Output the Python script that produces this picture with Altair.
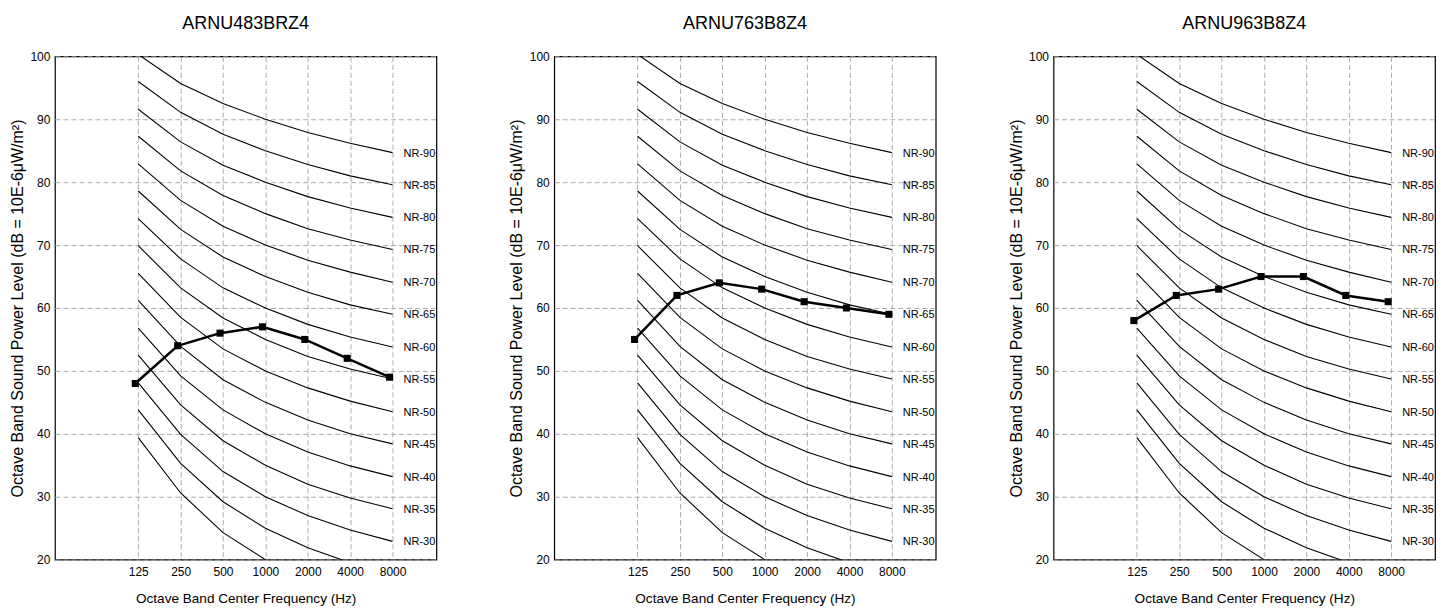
import altair as alt
import pandas as pd

FONT = "Liberation Sans"

# Octave band centre frequencies (Hz)
FREQS = [125, 250, 500, 1000, 2000, 4000, 8000]

# NR reference curves (dB) at the octave bands above
NR_LEVELS = [90, 85, 80, 75, 70, 65, 60, 55, 50, 45, 40, 35, 30, 25, 20]
NR90 = [100.3, 95.7, 92.5, 90.0, 87.9, 86.2, 84.7]
NR85 = [96.0, 91.1, 87.6, 85.0, 82.8, 81.0, 79.6]
NR80 = [91.6, 86.4, 82.7, 80.0, 77.7, 75.9, 74.4]
NR75 = [87.3, 81.8, 77.9, 75.0, 72.6, 70.8, 69.3]
NR70 = [82.9, 77.1, 73.0, 70.0, 67.6, 65.7, 64.1]
NR65 = [78.6, 72.5, 68.1, 65.0, 62.5, 60.5, 59.0]
NR60 = [74.2, 67.8, 63.2, 60.0, 57.4, 55.4, 53.8]
NR55 = [69.9, 63.2, 58.4, 55.0, 52.3, 50.3, 48.7]
NR50 = [65.5, 58.5, 53.5, 50.0, 47.3, 45.2, 43.5]
NR45 = [61.2, 53.9, 48.6, 45.0, 42.2, 40.0, 38.4]
NR40 = [56.8, 49.2, 43.8, 40.0, 37.1, 34.9, 33.2]
NR35 = [52.5, 44.6, 38.9, 35.0, 32.0, 29.8, 28.1]
NR30 = [48.1, 39.9, 34.0, 30.0, 27.0, 24.7, 22.9]
NR25 = [43.8, 35.3, 29.2, 25.0, 21.9, 19.5, 17.8]
NR20 = [39.4, 30.6, 24.3, 20.0, 16.8, 14.4, 12.6]
NR_CURVES = [NR90, NR85, NR80, NR75, NR70, NR65, NR60, NR55, NR50,
             NR45, NR40, NR35, NR30, NR25, NR20]
LABELLED_MIN = 30

# Measured sound power levels per model
MODELS = ["ARNU483BRZ4", "ARNU763B8Z4", "ARNU963B8Z4"]
ARNU483BRZ4 = [48, 54, 56, 57, 55, 52, 49]
ARNU763B8Z4 = [55, 62, 64, 63, 61, 60, 59]
ARNU963B8Z4 = [58, 62, 63, 65, 65, 62, 61]
LEVELS = [ARNU483BRZ4, ARNU763B8Z4, ARNU963B8Z4]

X_TITLE = "Octave Band Center Frequency (Hz)"
Y_TITLE = "Octave Band Sound Power Level (dB = 10E-6\u03bcW/m\u00b2)"

nr_rows = []
for lvl, vals in zip(NR_LEVELS, NR_CURVES):
    for f, v in zip(FREQS, vals):
        nr_rows.append({"nr": lvl, "freq": f, "db": v, "label": f"NR-{lvl}"})
nr_df = pd.DataFrame(nr_rows)
lab_df = nr_df[(nr_df["freq"] == FREQS[-1]) & (nr_df["nr"] >= LABELLED_MIN)]

x_scale = alt.Scale(type="log", base=2, domain=[62.5, 16000])
y_scale = alt.Scale(domain=[20, 100], nice=False, zero=False)


def panel(model, levels):
    xenc = alt.X("freq:Q", scale=x_scale,
                 axis=alt.Axis(values=FREQS, format="d", title=X_TITLE,
                               labelFontSize=12, titleFontSize=13.6,
                               labelPadding=7, titlePadding=13.5))
    yenc = alt.Y("db:Q", scale=y_scale,
                 axis=alt.Axis(values=list(range(20, 101, 10)), title=Y_TITLE,
                               labelFontSize=12, titleFontSize=16,
                               labelPadding=5, titlePadding=4.5))
    curves = alt.Chart(nr_df).mark_line(color="black", strokeWidth=1.1, clip=True).encode(
        x=xenc, y=yenc, detail="nr:N")
    labels = alt.Chart(lab_df).mark_text(
        align="left", baseline="middle", dx=11, dy=1, fontSize=11, font=FONT, color="black"
    ).encode(x="freq:Q", y="db:Q", text="label:N")
    ddf = pd.DataFrame({"freq": FREQS, "db": levels})
    line = alt.Chart(ddf).mark_line(color="black", strokeWidth=2.5, xOffset=-3).encode(
        x="freq:Q", y="db:Q")
    pts = alt.Chart(ddf).mark_point(shape="square", filled=True, size=50, color="black",
                                    opacity=1, xOffset=-3).encode(x="freq:Q", y="db:Q")
    return alt.layer(curves, labels, line, pts).properties(
        width=382, height=504,
        title=alt.TitleParams(text=model, fontSize=18, font=FONT, fontWeight="normal",
                              color="black", offset=17.5),
    )


chart = alt.hconcat(*[panel(m, l) for m, l in zip(MODELS, LEVELS)], spacing=70).properties(
    background="white",
    padding={"left": 0, "right": 0, "top": 5, "bottom": 0},
).configure_view(
    stroke="black", strokeWidth=1.2
).configure_axis(
    grid=True, gridColor="#aaaaaa", gridDash=[5, 3], gridWidth=1,
    domain=False, ticks=False, labelFont=FONT, titleFont=FONT,
    labelColor="black", titleColor="black", titleFontWeight="normal",
)

chart.save("out.html", embed_options={"renderer": "svg", "actions": False})
